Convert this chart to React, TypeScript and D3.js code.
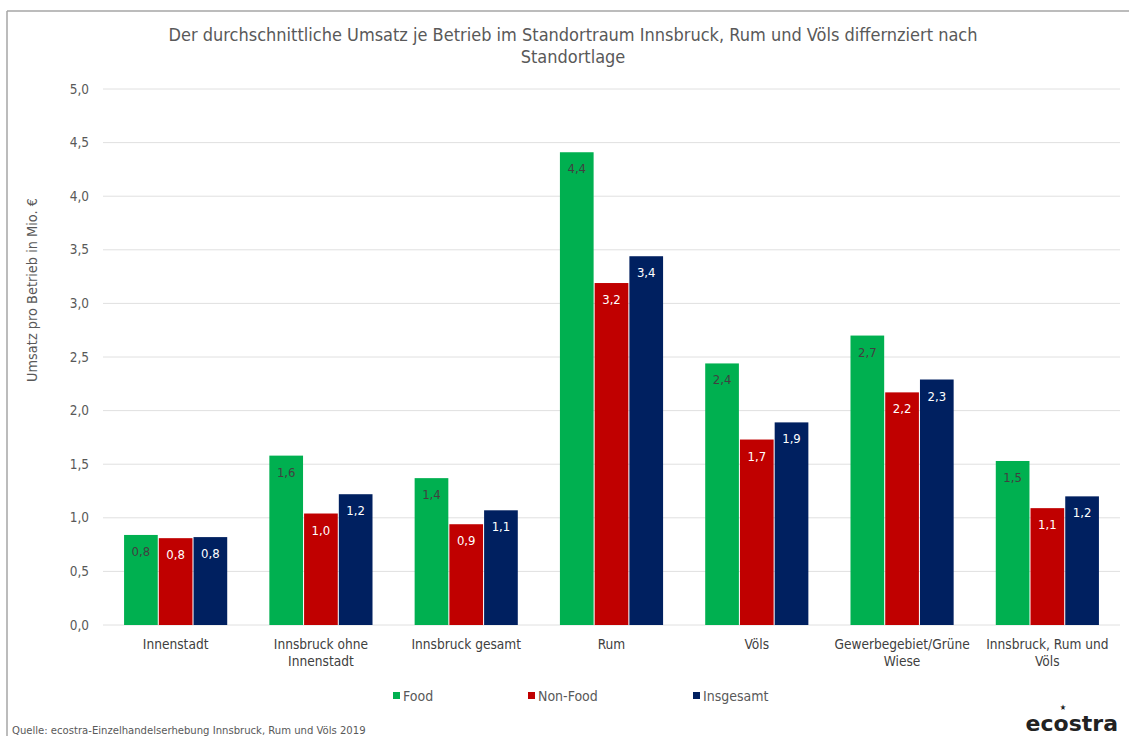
import React from "react";
import * as d3 from "d3";

const categories = [
  "Innenstadt",
  "Innsbruck ohne\nInnenstadt",
  "Innsbruck gesamt",
  "Rum",
  "Völs",
  "Gewerbegebiet/Grüne\nWiese",
  "Innsbruck, Rum und\nVöls",
];
const seriesNames = ["Food", "Non-Food", "Insgesamt"];
const food = [0.84, 1.58, 1.37, 4.41, 2.44, 2.7, 1.53];
const nonFood = [0.81, 1.04, 0.94, 3.19, 1.73, 2.17, 1.09];
const insgesamt = [0.82, 1.22, 1.07, 3.44, 1.89, 2.29, 1.2];
const yTicks = [0, 0.5, 1, 1.5, 2, 2.5, 3, 3.5, 4, 4.5, 5];
const colors = ["#00B050", "#C00000", "#002060"];
const labelColors = ["#404040", "#ffffff", "#ffffff"];

const title = [
  "Der durchschnittliche Umsatz je Betrieb im Standortraum Innsbruck, Rum und Völs differnziert nach",
  "Standortlage",
];
const yTitle = "Umsatz pro Betrieb in Mio. €";
const source = "Quelle: ecostra-Einzelhandelserhebung Innsbruck, Rum und Völs 2019";

const W = 1129;
const H = 736;
const FONT = "'DejaVu Sans Condensed', 'DejaVu Sans', sans-serif";

const locale = d3.formatLocale({ decimal: ",", thousands: ".", grouping: [3], currency: ["", "€"] });
const fmt = locale.format(".1f");

export default function App() {
  const series = [food, nonFood, insgesamt];
  const plotLeft = 103;
  const plotRight = 1120;
  const y = d3.scaleLinear().domain([0, 5]).range([625, 89]);
  const x0 = d3
    .scaleBand<string>()
    .domain(categories)
    .range([plotLeft, plotRight])
    .paddingInner(0.29)
    .paddingOuter(0.145);
  const x1 = d3
    .scaleBand<string>()
    .domain(seriesNames)
    .range([0, x0.bandwidth()])
    .paddingInner(0.03);

  const legendX = [393, 528, 693];

  return (
    <svg
      width={W}
      height={H}
      style={{ position: "absolute", left: 0, top: 0, background: "#fff" }}
      fontFamily={FONT}
    >
      <rect x={0} y={0} width={W} height={H} fill="#fff" />
      {/* frame */}
      <line x1={7} y1={11} x2={W} y2={11} stroke="#a6a6a6" strokeWidth={1.5} />
      <line x1={7} y1={11} x2={7} y2={H} stroke="#a6a6a6" strokeWidth={1.5} />

      {/* title */}
      {title.map((t, i) => (
        <text
          key={i}
          x={573}
          y={41 + i * 22}
          textAnchor="middle"
          fontSize={18}
          fill="#595959"
        >
          {t}
        </text>
      ))}

      {/* gridlines */}
      {yTicks.map((t) => (
        <g key={t}>
          <line
            x1={plotLeft}
            x2={plotRight}
            y1={y(t)}
            y2={y(t)}
            stroke="#e0e0e0"
            strokeWidth={1}
          />
          <text
            x={89}
            y={y(t) + 4.5}
            textAnchor="end"
            fontSize={13.5}
            fill="#595959"
          >
            {fmt(t)}
          </text>
        </g>
      ))}

      {/* y title */}
      <text
        transform={`translate(37,290) rotate(-90)`}
        textAnchor="middle"
        fontSize={14.4}
        fill="#595959"
      >
        {yTitle}
      </text>

      {/* bars */}
      {categories.map((c, ci) => (
        <g key={c} transform={`translate(${x0(c)},0)`}>
          {seriesNames.map((s, si) => {
            const v = series[si][ci];
            const bx = x1(s)!;
            const bw = x1.bandwidth();
            return (
              <g key={s}>
                <rect
                  x={bx}
                  y={y(v)}
                  width={bw}
                  height={y(0) - y(v)}
                  fill={colors[si]}
                />
                <text
                  x={bx + bw / 2}
                  y={y(v) + 21}
                  textAnchor="middle"
                  fontSize={13}
                  fill={labelColors[si]}
                >
                  {fmt(v)}
                </text>
              </g>
            );
          })}
          {c.split("\n").map((line, li) => (
            <text
              key={li}
              x={x0.bandwidth() / 2}
              y={649 + li * 17}
              textAnchor="middle"
              fontSize={13.6}
              fill="#404040"
            >
              {line}
            </text>
          ))}
        </g>
      ))}

      {/* legend */}
      {seriesNames.map((s, i) => (
        <g key={s}>
          <rect x={legendX[i]} y={692} width={7} height={7} fill={colors[i]} />
          <text x={legendX[i] + 10} y={701} fontSize={14} fill="#595959">
            {s}
          </text>
        </g>
      ))}

      {/* source */}
      <text x={12} y={734} fontSize={11.2} fill="#595959">
        {source}
      </text>

      {/* logo */}
      <text
        x={1118}
        y={731}
        textAnchor="end"
        fontSize={22}
        fontWeight="bold"
        fontFamily="'DejaVu Sans', sans-serif"
        fill="#222"
      >
        ecostra
      </text>
      <text x={1063} y={710} textAnchor="middle" fontSize={8} fill="#222">
        ★
      </text>
    </svg>
  );
}
